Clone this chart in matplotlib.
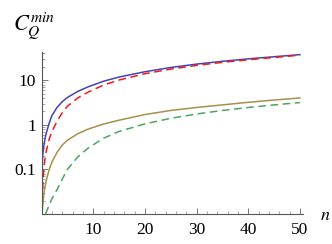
import numpy as np
import matplotlib
matplotlib.use("Agg")
import matplotlib.pyplot as plt
from matplotlib.ticker import FixedLocator, LogLocator, NullFormatter

# Data
n_blue = [0.0125, 0.05, 0.1, 0.2, 0.3, 0.5, 0.75, 1, 1.5, 2, 3, 4, 5, 7, 9, 12, 15, 20, 25, 30, 35, 40, 45, 50]
c_blue = [0.01, 0.045, 0.09, 0.17, 0.25, 0.37, 0.54, 0.7, 1.1, 1.6, 2.45, 3.3, 4.1, 5.6, 7.1, 9.5, 11.8, 15.5, 19.3, 23, 26.6, 30.2, 33.7, 37.5]

n_red = [0.1, 0.2, 0.3, 0.5, 0.75, 1, 1.5, 2, 3, 4, 5, 7, 9, 12, 15, 20, 25, 30, 35, 40, 45, 50]
c_red = [0.01, 0.03, 0.06, 0.12, 0.2, 0.28, 0.48, 0.7, 1.2, 1.85, 2.6, 4.0, 5.4, 7.8, 10.1, 14, 17.8, 21.5, 25.2, 28.8, 32.4, 36.5]

n_gold = [0.1, 0.2, 0.3, 0.5, 0.75, 1, 1.5, 2, 3, 4, 5, 7, 9, 12, 15, 20, 25, 30, 35, 40, 45, 50]
c_gold = [0.01, 0.014, 0.019, 0.03, 0.045, 0.062, 0.1, 0.145, 0.24, 0.35, 0.45, 0.63, 0.8, 1.04, 1.27, 1.7, 2.1, 2.45, 2.8, 3.2, 3.6, 4.0]

n_green = [0.75, 1, 1.5, 2, 3, 4, 5, 7, 9, 12, 15, 20, 25, 30, 35, 40, 45, 50]
c_green = [0.01, 0.0115, 0.016, 0.022, 0.035, 0.06, 0.1, 0.19, 0.3, 0.5, 0.71, 1.05, 1.4, 1.75, 2.1, 2.45, 2.8, 3.16]

x_ticks = [10, 20, 30, 40, 50]
y_ticks = [0.1, 1, 10]
y_tick_labels = ["0.1", "1", "10"]

plt.rcParams['mathtext.fontset'] = 'stix'
plt.rcParams['font.family'] = ['Liberation Serif', 'DejaVu Serif']

fig = plt.figure(figsize=(3.32, 2.44), dpi=100)
ax = fig.add_axes([41.5/332, 1-214/244, (303-41.5)/332, (214-52)/244])

ax.plot(n_blue, c_blue, color='#4343b5', lw=1.1)
ax.plot(n_red, c_red, color='#ee1c1c', lw=1.1, dashes=(5, 3))
ax.plot(n_gold, c_gold, color='#a6904a', lw=1.1)
ax.plot(n_green, c_green, color='#4ea560', lw=1.1, dashes=(5, 3))

ax.set_yscale('log')
ax.set_xlim(0, 50.6)
ax.set_ylim(0.01, 43)

for s in ['top', 'right']:
    ax.spines[s].set_visible(False)
for s in ['left', 'bottom']:
    ax.spines[s].set_color('#555555')
    ax.spines[s].set_linewidth(0.8)

ax.set_xticks(x_ticks)
ax.xaxis.set_minor_locator(FixedLocator(np.arange(2, 51, 2)))
ax.set_yticks(y_ticks)
ax.set_yticklabels(y_tick_labels)
ax.yaxis.set_minor_locator(LogLocator(base=10, subs=np.arange(2, 10)))
ax.yaxis.set_minor_formatter(NullFormatter())

ax.tick_params(axis='both', which='major', direction='in', length=4, width=0.7,
               color='#777777', labelsize=12.5)
ax.tick_params(axis='both', which='minor', direction='in', length=2, width=0.6,
               color='#999999')
ax.tick_params(axis='x', which='major', pad=6)
ax.tick_params(axis='y', which='major', pad=4)

fig.text(13/332, 1-26/244, r'$C_Q^{min}$', fontsize=16, ha='left', va='center')
fig.text(320/332, 1-215/244, r'$n$', fontsize=13, ha='left', va='center')

fig.savefig('out.png', dpi=100)
